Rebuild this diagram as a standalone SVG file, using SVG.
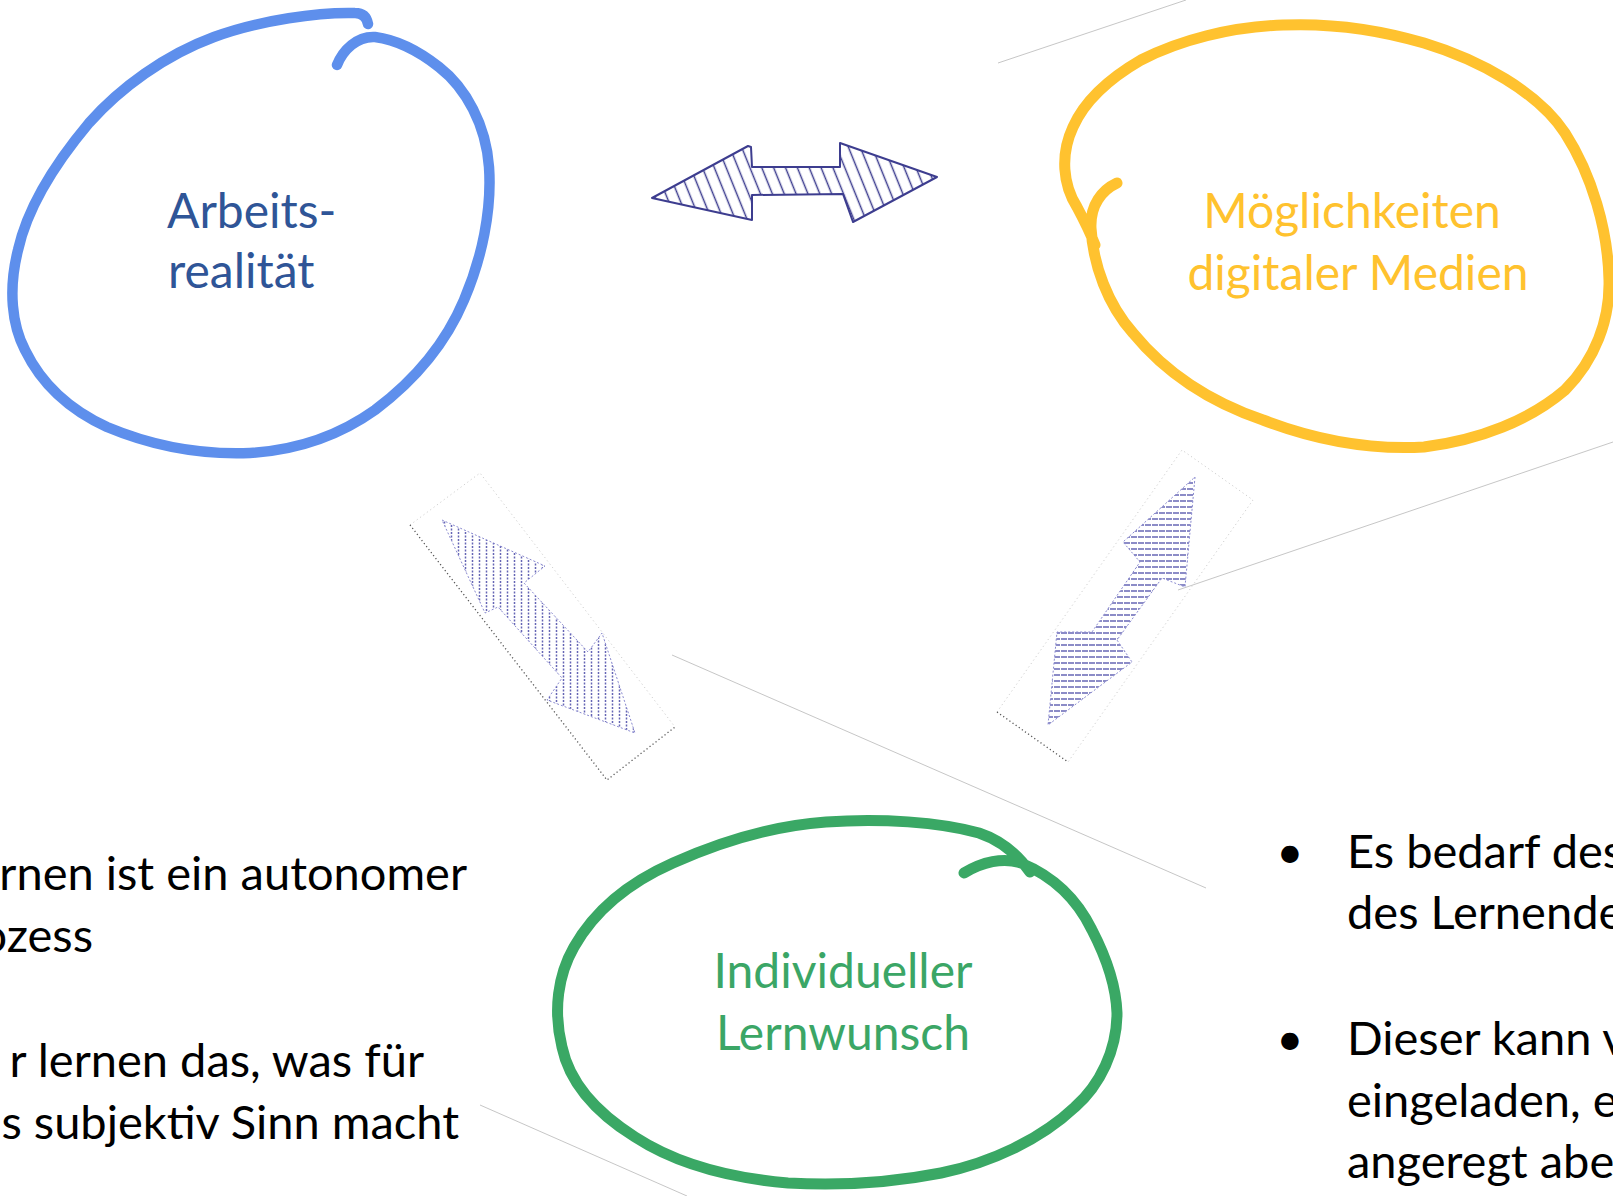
<svg xmlns="http://www.w3.org/2000/svg" width="1613" height="1196" viewBox="0 0 1613 1196">
<style>
.loop{fill:none;stroke-linecap:round;stroke-linejoin:round}
.blue{stroke:#5e8fec;stroke-width:10.5}
.yellow{stroke:#ffc22f;stroke-width:11}
.green{stroke:#3aa865;stroke-width:11}
.lbl{font-family:Lato,"Liberation Sans",sans-serif;font-size:48px}
.body{font-family:Lato,"Liberation Sans",sans-serif;font-size:47px;fill:#000}
.edge{stroke:#b8b8b8;stroke-width:0.8;fill:none}
.dot{fill:none;stroke:#555;stroke-width:1.3;stroke-dasharray:1.2 2.6}
.dotf{fill:none;stroke:#cfcfcf;stroke-width:1;stroke-dasharray:1.2 3}
.harrow{fill:url(#hatchH);stroke:#3d3d8f;stroke-width:2;stroke-linejoin:round}
.darrowV{fill:url(#hatchV);stroke:#8a8ad0;stroke-width:1;stroke-dasharray:2 2}
.darrowR{fill:url(#hatchR);stroke:#8a8ad0;stroke-width:1;stroke-dasharray:2 2}
</style>
<defs>
<pattern id="hatchH" patternUnits="userSpaceOnUse" width="11" height="11" patternTransform="rotate(-22)">
<line x1="5.5" y1="0" x2="5.5" y2="11" stroke="#3d3d8f" stroke-width="1.5"/>
</pattern>
<pattern id="hatchV" patternUnits="userSpaceOnUse" width="7" height="7">
<line x1="3.5" y1="0" x2="3.5" y2="7" stroke="#4a4aa8" stroke-width="1.5" stroke-dasharray="2 1.5" opacity="0.85"/>
</pattern>
<pattern id="hatchR" patternUnits="userSpaceOnUse" width="7" height="6">
<line x1="0" y1="3" x2="7" y2="3" stroke="#4a4aa8" stroke-width="1.5" stroke-dasharray="3 1" opacity="0.85"/>
</pattern>
</defs>
<rect x="0" y="0" width="1613" height="1196" fill="#ffffff"/>

<g id="image-edges">
<line class="edge" x1="998" y1="63" x2="1186" y2="0"/>
<line class="edge" x1="1178" y1="590" x2="1613" y2="442"/>
<line class="edge" x1="672" y1="655" x2="1206" y2="888"/>
<line class="edge" x1="480" y1="1105" x2="687" y2="1196"/>
<polyline class="dotf" points="410,525 480,473 675,727"/>
<polyline class="dot" points="410,525 607,780 675,727"/>
<polyline class="dotf" points="997,712 1182,450 1253,500 1068,762"/>
<polyline class="dot" points="997,712 1068,762"/>
</g>

<g id="connectors">
<polygon id="arrow-top" class="harrow" points="652,198 748,146 751,147 752,167 840,167 840,143 937,177 853,222 843,194 752,195 752,220"/>
<polygon id="arrow-left" class="darrowV" points="442,520 545,566 524,583 588,652 602,633 635,733 547,700 562,678 498,607 485,613"/>
<polygon id="arrow-right" class="darrowR" points="1195,477 1185,587 1162,578 1117,640 1132,662 1048,725 1057,632 1092,632 1140,562 1123,542"/>
</g>

<g id="node-arbeitsrealitaet">
<path class="loop blue" d="M368,24 Q366,13 355,13 C320,12 260,20 214,37 C165,55 120,88 89,123 C58,160 28,205 18,250 C8,290 12,325 25,350 C42,385 70,410 107,427 C150,445 200,455 250,453 C300,450 340,435 375,410 C415,380 445,345 464,300 C482,258 492,210 489,167 C486,125 466,88 439,67 C420,52 398,40 375,37 C357,36 343,50 337,65"/>
<text class="lbl" fill="#2f5597" x="167" y="228">Arbeits-</text>
<text class="lbl" fill="#2f5597" x="168" y="288">realität</text>
</g>

<g id="node-medien">
<path class="loop yellow" d="M1117,183 C1102,190 1090,205 1091,228 C1093,265 1108,305 1133,333 C1165,372 1210,402 1263,420 C1315,440 1370,450 1424,447 C1480,440 1530,420 1565,390 C1595,360 1610,320 1609,280 C1608,230 1592,175 1565,133 C1538,92 1480,60 1424,43 C1380,30 1330,23 1283,25 C1230,27 1180,40 1141,60 C1110,78 1085,100 1073,127 C1060,155 1063,185 1077,207 C1085,222 1090,232 1095,245"/>
<text class="lbl" fill="#ffc22e" x="1352" y="228" text-anchor="middle">Möglichkeiten</text>
<text class="lbl" fill="#ffc22e" x="1358" y="290" text-anchor="middle">digitaler Medien</text>
</g>

<g id="node-lernwunsch">
<path class="loop green" d="M964,873 C982,862 1003,857 1021,863 C1050,875 1075,895 1092,930 C1105,955 1116,985 1117,1013 C1117,1050 1100,1085 1075,1107 C1040,1140 990,1163 941,1173 C890,1183 840,1186 788,1183 C730,1178 675,1163 635,1137 C600,1115 570,1085 562,1047 C553,1010 558,975 574,947 C595,910 630,882 673,863 C720,842 770,826 826,822 C880,818 940,822 979,833 C1000,840 1018,855 1030,872"/>
<text class="lbl" fill="#3ba666" x="843" y="988" text-anchor="middle">Individueller</text>
<text class="lbl" fill="#3ba666" x="843" y="1050" text-anchor="middle">Lernwunsch</text>
</g>

<g id="text-left">
<text class="body" x="467" y="890" text-anchor="end">rnen ist ein autonomer</text>
<text class="body" x="93" y="952" text-anchor="end">ozess</text>
<text class="body" x="424" y="1077" text-anchor="end">r lernen das, was für</text>
<text class="body" x="459" y="1139" text-anchor="end">s subjektiv Sinn macht</text>
</g>

<g id="text-right">
<text class="body" x="1290" y="868" text-anchor="middle">•</text>
<text class="body" x="1347" y="868">Es bedarf des</text>
<text class="body" x="1347" y="929">des Lernende</text>
<text class="body" x="1290" y="1055" text-anchor="middle">•</text>
<text class="body" x="1347" y="1055">Dieser kann v</text>
<text class="body" x="1347" y="1117">eingeladen, e</text>
<text class="body" x="1347" y="1178">angeregt abe</text>
</g>
</svg>
